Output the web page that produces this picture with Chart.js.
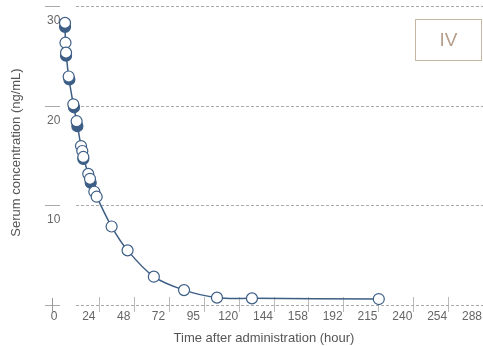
<!DOCTYPE html>
<html>
<head>
<meta charset="utf-8">
<script src="https://cdn.jsdelivr.net/npm/chart.js@4"></script>
<style>
  html, body { margin: 0; padding: 0; background: #fff; }
  #wrap { width: 483px; height: 346px; }
</style>
</head>
<body>
<div id="wrap"><canvas id="graph1"></canvas></div>
<script>
// open markers (the line goes through these)
const hoursOpen = [0, 0.3, 0.7, 2.5, 5.7, 8.0, 11.0, 11.9, 12.6, 16.0, 17.2, 20.2, 21.8, 32.1, 43.1, 61.2, 82.0, 104.7, 128.8, 216.2];
const concOpen  = [28.4, 26.4, 25.4, 23.0, 20.2, 18.5, 16.0, 15.5, 14.9, 13.2, 12.7, 11.4, 10.9, 7.9, 5.5, 2.85, 1.5, 0.74, 0.67, 0.6];
// filled markers, mostly hidden behind the open ones
const hoursFilled = [0, 0.7, 3.0, 6.2, 8.5, 12.6, 17.7];
const concFilled  = [28.0, 25.1, 22.7, 19.9, 18.0, 14.7, 12.3];

const xTickHours  = [0, 24, 48, 72, 96, 120, 144, 168, 192, 216, 240, 264, 288];
const xTickLabels = ['0', '24', '48', '72', '95', '120', '144', '158', '192', '215', '240', '254', '288'];
const yTicks = [0, 10, 20, 30];

const blue = '#3d5e85';
const grey = '#aaaaaa';
const txt = '#666666';

// solid stub, gap, then dotted to the right edge
const gridDash = [15, 16];
for (let i = 0; i < 90; i++) gridDash.push(3, 2);

const labelBox = {
    id: 'labelBox',
    afterDraw(chart) {
        const { ctx, chartArea, scales } = chart;
        ctx.save();
        // origin cross (vertical part)
        const y0 = scales.y.getPixelForValue(0);
        ctx.strokeStyle = '#999';
        ctx.lineWidth = 1;
        ctx.beginPath();
        ctx.moveTo(chartArea.left + 7.5, y0 - 7);
        ctx.lineTo(chartArea.left + 7.5, y0 + 7);
        ctx.stroke();
        // IV box
        const bx = chartArea.right - 67.5, by = chartArea.top + 19.5;
        ctx.strokeStyle = '#c9b7a6';
        ctx.strokeRect(bx, by, 66, 41);
        ctx.fillStyle = '#b59f8c';
        ctx.font = '19px "Liberation Sans", Arial, sans-serif';
        ctx.textAlign = 'center';
        ctx.textBaseline = 'middle';
        ctx.fillText('IV', bx + 33, by + 21);
        ctx.restore();
    }
};

const data = {
    datasets: [{
        label: 'open',
        data: hoursOpen.map((h, i) => ({ x: h, y: concOpen[i] })),
        showLine: true,
        tension: 0.35,
        borderColor: blue,
        borderWidth: 1.5,
        pointRadius: 5.5,
        pointBorderWidth: 1.2,
        pointBackgroundColor: '#ffffff',
        pointBorderColor: blue,
        clip: false,
        order: 0
    }, {
        label: 'filled',
        data: hoursFilled.map((h, i) => ({ x: h, y: concFilled[i] })),
        showLine: false,
        pointRadius: 5.5,
        pointBorderWidth: 1.2,
        pointBackgroundColor: blue,
        pointBorderColor: blue,
        clip: false,
        order: 1
    }]
};

const config = {
    type: 'scatter',
    data: data,
    plugins: [labelBox],
    options: {
        responsive: true,
        maintainAspectRatio: false,
        animation: false,
        layout: { autoPadding: false, padding: { top: 0, left: 0, right: 0, bottom: 41 } },
        plugins: {
            legend: { display: false },
            tooltip: { enabled: false }
        },
        scales: {
            x: {
                type: 'linear',
                position: { y: 0.8 },
                min: -13.8,
                max: 288,
                afterBuildTicks: s => { s.ticks = xTickHours.map(v => ({ value: v })); },
                afterFit: s => { s.paddingLeft = 0; s.paddingRight = 0; },
                ticks: {
                    autoSkip: false,
                    maxRotation: 0,
                    labelOffset: -11,
                    padding: -3,
                    color: txt,
                    font: { family: '"Liberation Sans", Arial, sans-serif', size: 12 },
                    callback: (v, i) => xTickLabels[i]
                },
                grid: {
                    drawOnChartArea: false,
                    drawTicks: true,
                    tickLength: 15,
                    tickWidth: 1,
                    tickColor: ctx => (ctx.tick && ctx.tick.value === 0) ? 'rgba(0,0,0,0)' : '#bbbbbb'
                },
                border: { display: false },
                title: {
                    display: true,
                    text: 'Time after administration (hour)',
                    color: '#555',
                    font: { family: '"Liberation Sans", Arial, sans-serif', size: 13 },
                    padding: { top: 10, bottom: 0 }
                }
            },
            y: {
                type: 'linear',
                position: 'left',
                min: 0,
                max: 30.7,
                afterBuildTicks: s => { s.ticks = yTicks.map(v => ({ value: v })); },
                afterFit: s => { s.width = 45; s.paddingTop = 0; s.paddingBottom = 0; },
                ticks: {
                    mirror: true,
                    padding: 2,
                    labelOffset: 14,
                    color: txt,
                    font: { family: '"Liberation Sans", Arial, sans-serif', size: 12 },
                    callback: v => v === 0 ? '' : String(v)
                },
                grid: {
                    drawTicks: false,
                    color: grey,
                    lineWidth: 1
                },
                border: { display: false, dash: gridDash },
                title: {
                    display: true,
                    text: 'Serum concentration (ng/mL)',
                    color: '#555',
                    font: { family: '"Liberation Sans", Arial, sans-serif', size: 13 },
                    padding: { top: 9, bottom: 0 }
                }
            }
        }
    }
};

new Chart(document.querySelector('#graph1'), config);
</script>
</body>
</html>
